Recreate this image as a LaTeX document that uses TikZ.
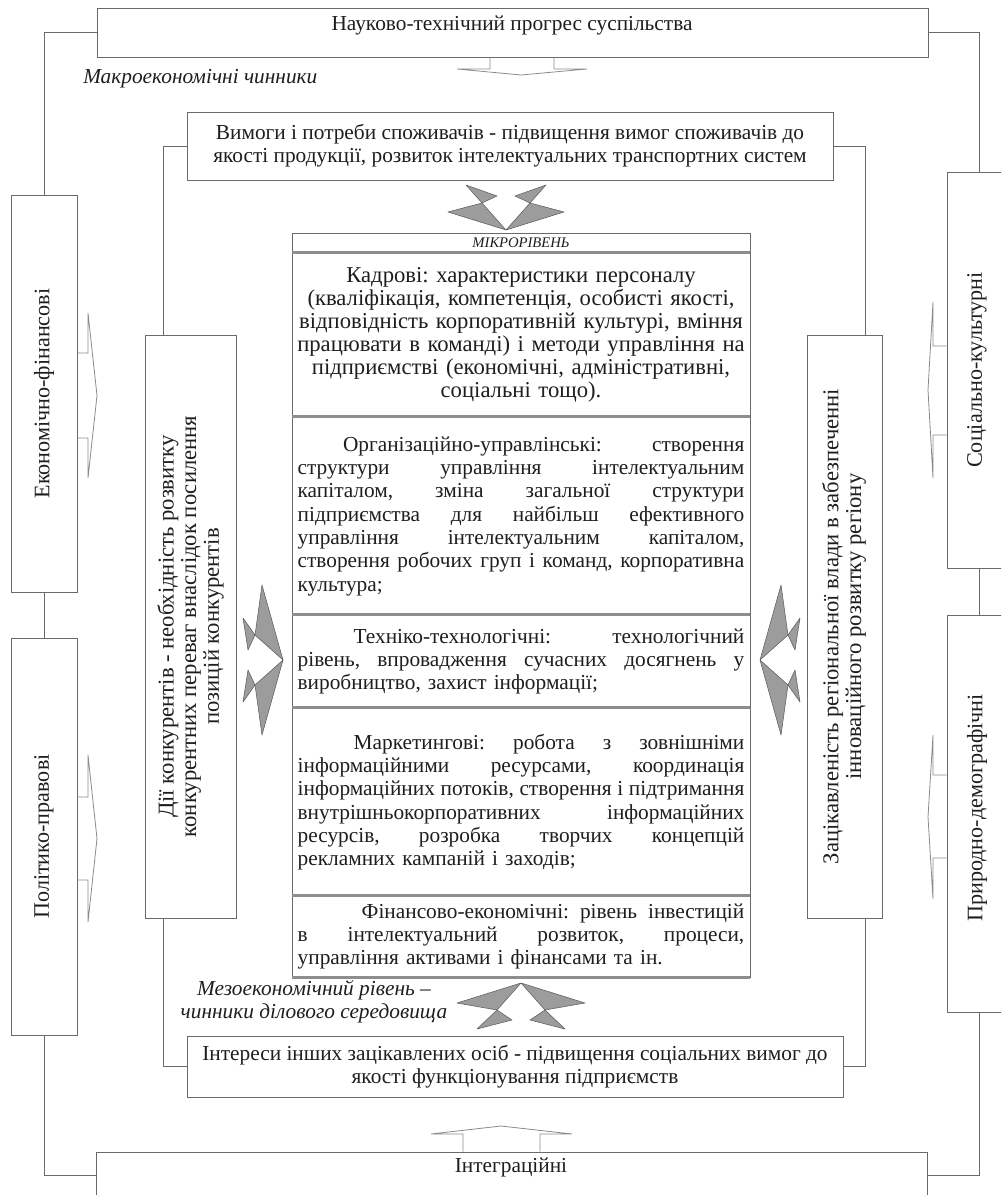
\documentclass[tikz,border=0pt]{standalone}
\usepackage{fontspec}
\setmainfont{Liberation Serif}
\frenchspacing
\definecolor{frame}{HTML}{6A6A6A}
\definecolor{sep}{HTML}{8E8E8E}
\definecolor{wingfill}{HTML}{9C9C9C}
\definecolor{wingline}{HTML}{5C5C5C}
\definecolor{hollowline}{HTML}{8A8A8A}
\definecolor{ink}{HTML}{1E1E1E}
\newlength\colw
\setlength\colw{335pt}
\newcommand\jline[1]{{\spaceskip=0pt\xspaceskip=0pt\makebox[\colw][s]{#1}}}
\tikzset{
  box/.style={draw=frame, line width=0.7pt, fill=white, inner sep=0pt},
  sz/.style 2 args={minimum width=#1*0.75pt, minimum height=#2*0.75pt},
  txt/.style={text=ink, inner sep=0pt, font=\fontsize{16}{17.5}\selectfont},
  sidetxt/.style={txt, rotate=90, align=center},
  layer/.style={box, sz={458}{#1}, text=ink, text width=\colw, font=\fontsize{16}{17.5}\selectfont},
  link/.style={draw=frame, line width=0.6pt},
  divider/.style={draw=sep, line width=1.8pt},
  wing/.style={fill=wingfill, draw=wingline, line width=0.4pt, line join=round},
  hollow/.style={draw=hollowline, line width=0.6pt}
}
\begin{document}
\begin{tikzpicture}[x=0.75pt, y=-0.75pt]
\useasboundingbox (0,0) rectangle (1001,1195);
\clip (0,0) rectangle (1001,1195);

% Outer ring of factors
\node[box, sz={831}{49}] (nauka) at (512.5,32.5) {};
\node[txt] (naukat) at (512,26) {Науково-технічний прогрес суспільства};
\node[box, sz={66}{397}] (ekfin) at (44,393.5) {};
\node[sidetxt, font=\fontsize{16.6}{18}\selectfont] (ekfint) at (44,393.5) {Економічно-фінансові};
\node[box, sz={66}{397}] (polit) at (44,836.5) {};
\node[sidetxt, font=\fontsize{16.6}{18}\selectfont] (politt) at (44,836.5) {Політико-правові};
\node[box, sz={65}{396}] (social) at (979.5,370) {};
\node[sidetxt, font=\fontsize{16.6}{18}\selectfont] (socialt) at (977,370) {Соціально-культурні};
\node[box, sz={65}{397}] (pryrod) at (979.5,813.5) {};
\node[sidetxt, font=\fontsize{16.6}{18}\selectfont] (pryrodt) at (977,808) {Природно-демографічні};
\node[box, sz={831}{46}] (integr) at (511.5,1175) {};
\node[txt] (integrt) at (511,1167) {Інтеграційні};

\node[txt, anchor=west, font=\itshape\fontsize{16}{17.5}\selectfont] (makro) at (83,79) {Макроекономічні чинники};

% Outer links
\draw[link] (nauka.west) -| (ekfin.north);
\draw[link] (ekfin.south) -- (polit.north);
\draw[link] (polit.south) |- (integr.west);
\draw[link] (nauka.east) -| (social.north);
\draw[link] (social.south) -- (pryrod.north);
\draw[link] (pryrod.south) |- (integr.east);

% Middle ring
\node[box, sz={646}{68}, txt, align=center] (vymogy) at (510,146) {Вимоги і потреби споживачів - підвищення вимог споживачів до\\якості продукції, розвиток інтелектуальних транспортних систем};
\node[box, sz={91}{583}] (konk) at (190.5,626.5) {};
\node[sidetxt, font=\fontsize{17}{17}\selectfont] (konkt) at (190.5,626.5) {Дії конкурентів - необхідність розвитку\\конкурентних переваг внаслідок посилення\\позицій конкурентів};
\node[box, sz={75}{583}] (region) at (844.5,626.5) {};
\node[sidetxt, font=\fontsize{17}{17}\selectfont] (regiont) at (844,626.5) {Зацікавленість регіональної влади в забезпеченні\\інноваційного розвитку регіону};
\node[box, sz={656}{61}, txt, align=center] (interes) at (515,1066.5) {Інтереси інших зацікавлених осіб - підвищення соціальних вимог до\\якості функціонування підприємств};
\node[txt, align=center, font=\itshape\fontsize{16}{17}\selectfont] (mezo) at (314,1002) {Мезоекономічний рівень –\\чинники ділового середовища};

% Middle links
\coordinate (kl) at (163,0);
\coordinate (kr) at (865,0);
\draw[link] (vymogy.west) -| (kl |- konk.north);
\draw[link] (kl |- konk.south) |- (interes.west);
\draw[link] (vymogy.east) -| (kr |- region.north);
\draw[link] (kr |- region.south) |- (interes.east);

% Micro level column
\node[layer=20, align=center, font=\itshape\fontsize{11}{12}\selectfont] (hdr) at (521,243) {МІКРОРІВЕНЬ};
\node[layer=164, align=center, text width=343pt, font=\fontsize{17}{17.3}\selectfont] (kadr) at (521,335) {Кадрові: характеристики персоналу\\(кваліфікація, компетенція, особисті якості,\\відповідність корпоративній культурі, вміння\\працювати в команді) і методи управління на\\підприємстві (економічні, адміністративні,\\соціальні тощо).};
\node[layer=198, align=left] (org) at (521,516) {\jline{\hspace*{34pt}Організаційно-управлінські: створення}\\\jline{структури управління інтелектуальним}\\\jline{капіталом, зміна загальної структури}\\\jline{підприємства для найбільш ефективного}\\\jline{управління інтелектуальним капіталом,}\\\jline{створення робочих груп і команд, корпоративна}\\культура;};
\node[layer=93, align=left] (tech) at (521,661.5) {\jline{\hspace*{42pt}Техніко-технологічні: технологічний}\\\jline{рівень, впровадження сучасних досягнень у}\\виробництво, захист інформації;};
\node[layer=188, align=left] (mark) at (521,802) {\jline{\hspace*{42pt}Маркетингові: робота з зовнішніми}\\\jline{інформаційними ресурсами, координація}\\\jline{інформаційних потоків, створення і підтримання}\\\jline{внутрішньокорпоративних інформаційних}\\\jline{ресурсів, розробка творчих концепцій}\\рекламних кампаній і заходів;};
\node[layer=81, align=left] (fin) at (521,936.5) {\jline{\hspace*{48pt}Фінансово-економічні: рівень інвестицій}\\\jline{в інтелектуальний розвиток, процеси,}\\управління активами і фінансами та ін.};

% Dividers
\draw[divider] (kadr.north west) -- (kadr.north east);
\draw[divider] (org.north west) -- (org.north east);
\draw[divider] (tech.north west) -- (tech.north east);
\draw[divider] (mark.north west) -- (mark.north east);
\draw[divider] (fin.north west) -- (fin.north east);
\draw[divider] (fin.south west) -- (fin.south east);

% Grey arrows
\draw[wing] (466,185) -- (497,196) -- (482,203) -- cycle;
\draw[wing] (482,203) -- (448,212) -- (506,230) -- cycle;
\draw[wing] (546,185) -- (515,196) -- (530,203) -- cycle;
\draw[wing] (530,203) -- (564,212) -- (506,230) -- cycle;

\draw[wing] (243,618) -- (248,650) -- (255,635) -- cycle;
\draw[wing] (255,635) -- (262,585) -- (283,660) -- cycle;
\draw[wing] (243,702) -- (248,670) -- (255,685) -- cycle;
\draw[wing] (255,685) -- (262,735) -- (283,660) -- cycle;

\draw[wing] (800,618) -- (795,650) -- (788,635) -- cycle;
\draw[wing] (788,635) -- (781,585) -- (760,660) -- cycle;
\draw[wing] (800,702) -- (795,670) -- (788,685) -- cycle;
\draw[wing] (788,685) -- (781,735) -- (760,660) -- cycle;

\draw[wing] (477,1029) -- (512,1020) -- (497,1010) -- cycle;
\draw[wing] (497,1010) -- (457,1003) -- (521,983) -- cycle;
\draw[wing] (565,1029) -- (530,1020) -- (545,1010) -- cycle;
\draw[wing] (545,1010) -- (585,1003) -- (521,983) -- cycle;

% Hollow arrows
\coordinate (tl) at (490,69);
\coordinate (tr) at (554,69);
\draw[hollow] (tl |- nauka.south) -- (tl) -- (457,69) -- (521,75) -- (587,69) -- (tr) -- (tr |- nauka.south);
\coordinate (bl) at (463,1134);
\coordinate (br) at (540,1134);
\draw[hollow] (bl |- integr.north) -- (bl) -- (431,1134) -- (501,1126) -- (572,1134) -- (br) -- (br |- integr.north);
\coordinate (e1) at (88,353);
\coordinate (e2) at (88,438);
\draw[hollow] (ekfin.east |- e1) -- (e1) -- (88,313) -- (97,395.5) -- (88,478) -- (e2) -- (ekfin.east |- e2);
\coordinate (p1) at (88,797);
\coordinate (p2) at (88,880);
\draw[hollow] (polit.east |- p1) -- (p1) -- (88,755) -- (97,838.5) -- (88,922) -- (p2) -- (polit.east |- p2);
\coordinate (s1) at (933,346);
\coordinate (s2) at (933,435);
\draw[hollow] (social.west |- s1) -- (s1) -- (933,302) -- (928,390) -- (933,478) -- (s2) -- (social.west |- s2);
\coordinate (d1) at (933,775);
\coordinate (d2) at (933,858);
\draw[hollow] (pryrod.west |- d1) -- (d1) -- (933,735) -- (928,817) -- (933,899) -- (d2) -- (pryrod.west |- d2);

\end{tikzpicture}
\end{document}
